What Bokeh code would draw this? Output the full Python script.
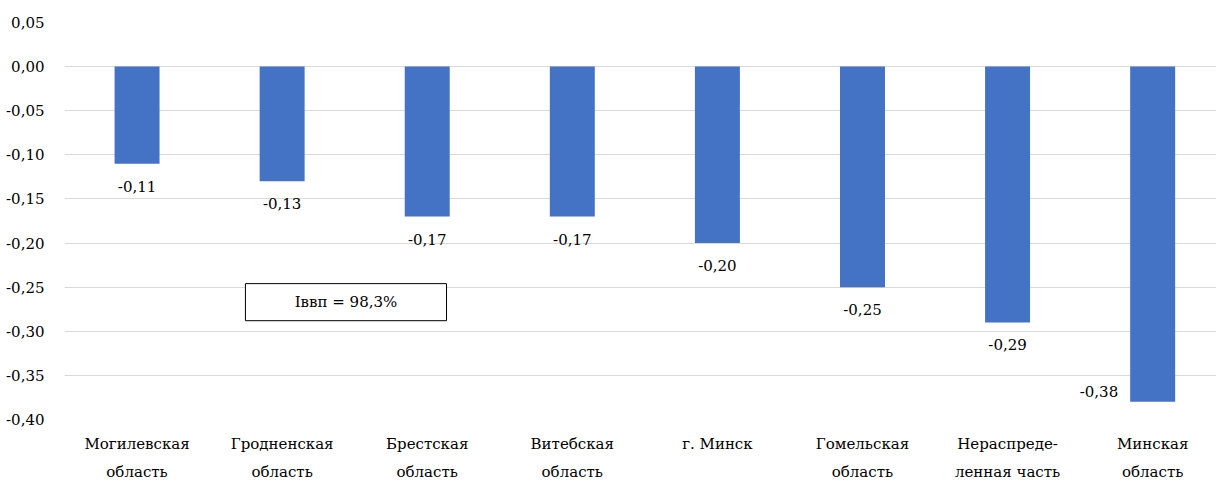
from bokeh.plotting import figure
from bokeh.models import ColumnDataSource, FixedTicker, Range1d, BoxAnnotation, Label
from bokeh.core.properties import value
from bokeh.embed import file_html
from bokeh.resources import INLINE

categories = ["Могилевская\nобласть", "Гродненская\nобласть", "Брестская\nобласть", "Витебская\nобласть",
              "г. Минск", "Гомельская\nобласть", "Нераспреде-\nленная часть", "Минская\nобласть"]
values = [-0.11, -0.13, -0.17, -0.17, -0.20, -0.25, -0.29, -0.38]
y_ticks = [0.05, 0.0, -0.05, -0.10, -0.15, -0.20, -0.25, -0.30, -0.35, -0.40]
note_text = "Iввп = 98,3%"

FONT = "DejaVu Serif"
FS = "15px"
xs = [i + 0.5 for i in range(len(categories))]
labels = [("%.2f" % v).replace(".", ",") for v in values]

p = figure(width=1216, height=484, output_backend="svg", toolbar_location=None,
           x_range=Range1d(0, 7.94), y_range=Range1d(-0.40, 0.05),
           min_border_left=64, min_border_right=0, min_border_top=22, min_border_bottom=65)
p.outline_line_color = None
p.background_fill_color = "white"

src = ColumnDataSource(dict(x=xs, top=[0]*len(values), bottom=values, lab=labels))
p.vbar(x="x", top="top", bottom="bottom", width=0.31, source=src,
       fill_color="#4472C4", line_color=None)

src_a = ColumnDataSource(dict(x=xs[:-1], y=values[:-1], lab=labels[:-1]))
p.text(x="x", y="y", text="lab", source=src_a, text_align="center", text_baseline="top",
       y_offset=17, text_font=value(FONT), text_font_size=FS, text_color="#000000")
src_b = ColumnDataSource(dict(x=[xs[-1] - 0.155], y=[values[-1]], lab=[labels[-1]]))
p.text(x="x", y="y", text="lab", source=src_b, text_align="right", text_baseline="middle",
       x_offset=-12, y_offset=-10, text_font=value(FONT), text_font_size=FS, text_color="#000000")

p.add_layout(BoxAnnotation(left=1.247, right=2.633, top=-0.246, bottom=-0.288,
                           fill_color="white", fill_alpha=1.0, line_color="#000000",
                           line_alpha=1.0, line_width=1))
p.add_layout(Label(x=1.94, y=-0.267, text=note_text, text_align="center", text_baseline="middle",
                   text_font=FONT, text_font_size=FS, text_color="#000000"))

p.xaxis.ticker = FixedTicker(ticks=xs)
p.xaxis.major_label_overrides = {x: c for x, c in zip(xs, categories)}
p.yaxis.ticker = FixedTicker(ticks=y_ticks)
p.yaxis.major_label_overrides = {t: ("%.2f" % t).replace(".", ",").replace("-0,00", "0,00") for t in y_ticks}

for ax in (p.xaxis, p.yaxis):
    ax.axis_line_color = None
    ax.major_tick_line_color = None
    ax.minor_tick_line_color = None
    ax.major_label_text_font = FONT
    ax.major_label_text_font_size = FS
    ax.major_label_text_color = "#000000"
p.xaxis.major_label_text_line_height = 1.6
p.xaxis.major_label_standoff = 9
p.yaxis.major_label_standoff = 14

p.xgrid.grid_line_color = None
p.ygrid.grid_line_color = "#D9D9D9"
p.ygrid.grid_line_width = 1

open("out.html", "w").write(file_html(p, INLINE))
